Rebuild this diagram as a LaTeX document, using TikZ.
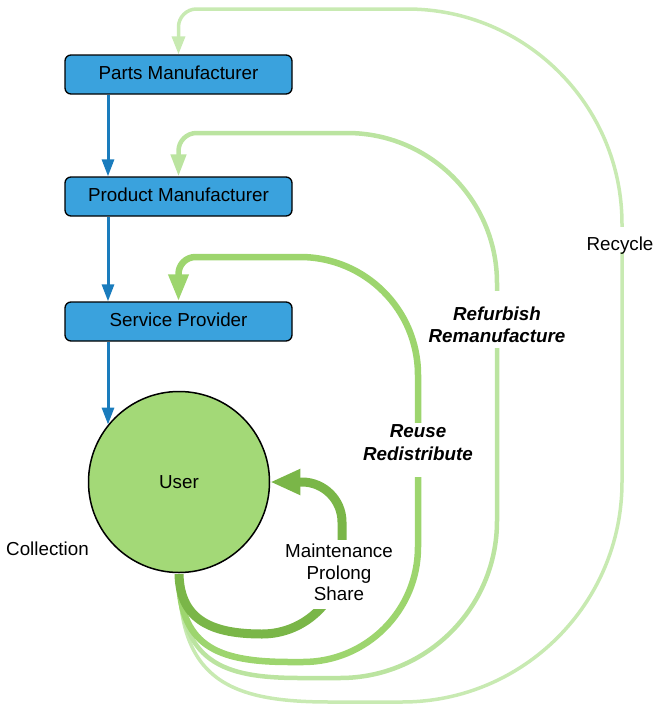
\documentclass[tikz,border=0pt]{standalone}
\usepackage{fontspec}
\setmainfont{Liberation Sans}
\usetikzlibrary{arrows.meta,calc}
\definecolor{boxblue}{HTML}{3AA2DD}
\definecolor{arrblue}{HTML}{1A7CBD}
\definecolor{userfill}{HTML}{A3D977}
\definecolor{gmaint}{HTML}{7AB648}
\definecolor{greuse}{HTML}{9DD56E}
\definecolor{grefurb}{HTML}{BBE4A0}
\definecolor{grecyc}{HTML}{C8EAB2}
\begin{document}
\begin{tikzpicture}[x=1pt,y=-1pt,
  font=\fontsize{18.8}{22}\selectfont,
  box/.style={draw=black, line width=1.3pt, fill=boxblue, rounded corners=6pt,
    minimum width=227pt, minimum height=39pt, inner sep=0pt,
    text height=13pt, text depth=4pt},
  flow/.style={arrblue, line width=3pt, -{Triangle[width=12pt,length=17pt]}},
  recyc/.style={grecyc, line width=3.5pt, -{Triangle[width=13pt,length=18pt]}},
  refurb/.style={grefurb, line width=4.5pt, -{Triangle[width=15pt,length=22pt]}},
  reusel/.style={greuse, line width=6.5pt, -{Triangle[width=19pt,length=27pt]}},
  maint/.style={gmaint, line width=9pt, -{Triangle[width=24pt,length=30pt]}},
  lab/.style={align=center, inner sep=0pt, anchor=north},
  bilab/.style={lab, font=\fontsize{18.8}{22}\selectfont\bfseries\itshape}]
\useasboundingbox (0,0) rectangle (655,707);

% boxes and user
\node[box] (parts) at (178.5,74.5) {Parts Manufacturer};
\node[box] (product) at (178.5,196.5) {Product Manufacturer};
\node[box] (service) at (178.5,321.5) {Service Provider};
\node[circle, draw=black, line width=1.5pt, fill=userfill, minimum size=181pt, inner sep=0pt] (user) at (179,482) {User};

% return loops
\draw[recyc, shorten <=0.8pt] (user.south) .. controls (179,680) and (230,702) .. (330,702) -- (402,702)
  .. controls (523.5,702) and (622,603.5) .. (622,482) -- (622,224)
  .. controls (622,105.3) and (525.7,9) .. (407,9) -- (196.5,9)
  .. controls (186.6,9) and (178.5,17.1) .. (178.5,27) -- (parts.north);
\draw[refurb, shorten <=0.8pt] (user.south) .. controls (179,662) and (222,678) .. (300,678) -- (340,678)
  .. controls (426.7,678) and (497,607.7) .. (497,521) -- (497,283)
  .. controls (497,200.2) and (429.8,133) .. (347,133) -- (196.5,133)
  .. controls (186.6,133) and (178.5,141.1) .. (178.5,151) -- (product.north);
\draw[reusel, shorten <=0.8pt] (user.south) .. controls (179,645) and (215,662) .. (290,662) -- (303,662)
  .. controls (366.5,662) and (418,610.5) .. (418,547) -- (418,375)
  .. controls (418,309.8) and (365.2,257) .. (300,257) -- (195.5,257)
  .. controls (186.1,257) and (178.5,264.6) .. (178.5,274) -- (service.north);
\draw[maint, shorten <=0.8pt] (user.south) .. controls (180,622) and (215,634) .. (262,634)
  .. controls (306,634) and (342,598) .. (342,554) -- (342,522)
  .. controls (342,500) and (324,482) .. (302,482) -- (user.east);

% gaps behind labels
\fill[white] (612,227) rectangle (632,252);
\fill[white] (488,291) rectangle (506,348);
\fill[white] (408,423) rectangle (428,477);
\fill[white] (310,540) rectangle (356,609);

% labels
\node[anchor=base, inner sep=0pt] (lrecycle) at (620,250) {Recycle};
\node[bilab] (lrefurb) at (497,306.5) {Refurbish\\Remanufacture};
\node[bilab, font=\fontsize{18.8}{23}\selectfont\bfseries\itshape] (lreuse) at (418,424) {Reuse\\Redistribute};
\node[lab, font=\fontsize{18.8}{21.5}\selectfont] (lmaint) at (339,543.7) {Maintenance\\Prolong\\Share};
\node[anchor=base, inner sep=0pt] (lcoll) at (47.5,555) {Collection};

% forward flow
\coordinate (bx) at (108,0);
\draw[flow] (parts.south -| bx) -- (product.north -| bx);
\draw[flow] (product.south -| bx) -- (service.north -| bx);
\draw[flow] (service.south -| bx) -- (bx |- user.141);
\end{tikzpicture}
\end{document}
